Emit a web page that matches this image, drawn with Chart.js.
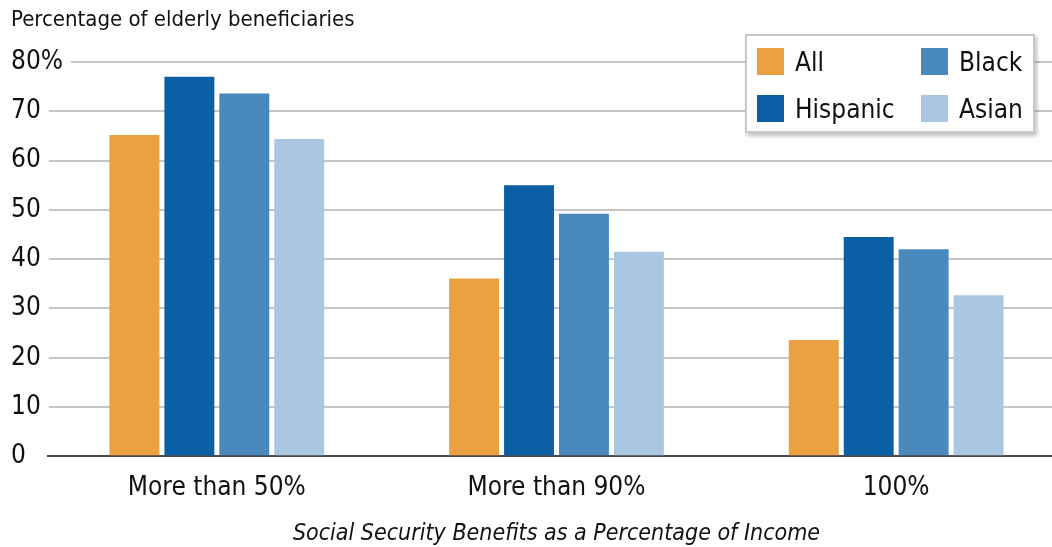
<!DOCTYPE html>
<html>
<head>
<meta charset="utf-8">
<script src="https://cdn.jsdelivr.net/npm/chart.js@4.4.1/dist/chart.umd.min.js"></script>
<style>
    html, body { margin: 0; padding: 0; background: #fff; overflow: hidden; }
    #wrap { position: relative; width: 1052px; height: 547px; overflow: hidden; }
    #grafico { position: absolute; left: 0; top: 0; }
    #leyenda {
        position: absolute; left: 745px; top: 34px; width: 290px; height: 99px;
        box-sizing: border-box; background: #fff; border: 2px solid #c8c8c8;
        box-shadow: 2px 3px 4px rgba(0, 0, 0, 0.25);
        display: grid; grid-template-columns: 164px 1fr; grid-template-rows: 47px 47px;
        grid-auto-flow: column; padding: 2px 0 0 10px;
        font-family: "DejaVu Sans Condensed", "DejaVu Sans", sans-serif;
        font-size: 26px; color: #111;
    }
    .item { display: flex; align-items: center; line-height: 1; }
    .swatch { display: inline-block; width: 27px; height: 27px; margin-right: 11px; }
</style>
</head>
<body>
<div id="wrap">
    <canvas id="grafico" width="1066" height="547"></canvas>
    <div id="leyenda"></div>
</div>
<script>
const categorias = ['More than 50%', 'More than 90%', '100%'];
const series = ['All', 'Hispanic', 'Black', 'Asian'];
const valoresAll = [65.2, 36.1, 23.6];
const valoresHispanic = [77.0, 55.0, 44.5];
const valoresBlack = [73.6, 49.2, 42.0];
const valoresAsian = [64.4, 41.5, 32.7];
const colores = ['#eba042', '#0b5fa5', '#4a89be', '#a9c7e1'];
const ticksY = ['0', '10', '20', '30', '40', '50', '60', '70', '80%'];
const tituloY = 'Percentage of elderly beneficiaries';
const tituloX = 'Social Security Benefits as a Percentage of Income';

const fuente = '"DejaVu Sans Condensed", "DejaVu Sans", sans-serif';
const valores = [valoresAll, valoresHispanic, valoresBlack, valoresAsian];

function crearLeyenda() {
    const leyenda = document.getElementById('leyenda');
    series.forEach(function(nombre, i) {
        const item = document.createElement('div');
        item.className = 'item';
        item.innerHTML = `<span class="swatch" style="background:${colores[i]}"></span><span>${nombre}</span>`;
        leyenda.appendChild(item);
    });
}

function crearGrafico() {
    const ctx = document.getElementById('grafico').getContext('2d');
    const data = {
        labels: categorias,
        datasets: series.map(function(nombre, i) {
            return {
                label: nombre,
                data: valores[i],
                backgroundColor: colores[i],
                borderWidth: 0,
                categoryPercentage: 0.647,
                barPercentage: 0.909
            };
        })
    };
    const config = {
        type: 'bar',
        data: data,
        options: {
            responsive: false,
            animation: false,
            layout: {padding: {left: 11, right: 0, top: 0, bottom: 0}},
            plugins: {
                legend: {display: false},
                tooltip: {enabled: false},
                title: {
                    display: true,
                    text: tituloY,
                    align: 'start',
                    color: '#111',
                    font: {family: fuente, size: 22, weight: 'normal', lineHeight: 1.2},
                    padding: {top: 7, bottom: 28.6}
                }
            },
            scales: {
                x: {
                    grid: {display: false, drawTicks: false},
                    border: {display: false},
                    ticks: {color: '#111', font: {family: fuente, size: 26, lineHeight: 1.2}, padding: 16.5},
                    title: {
                        display: true,
                        text: tituloX,
                        color: '#111',
                        font: {family: fuente, size: 23, style: 'italic', lineHeight: 1.15},
                        padding: {top: 0, bottom: 0}
                    }
                },
                y: {
                    min: 0,
                    max: 80,
                    afterFit: function(scale) { scale.width = 36; },
                    grid: {
                        drawTicks: false,
                        lineWidth: 2,
                        color: function(c) { return c.tick && c.tick.value === 0 ? '#4a4a4a' : '#c6c6c6'; }
                    },
                    border: {display: false},
                    ticks: {
                        stepSize: 10,
                        mirror: true,
                        padding: -36,
                        color: '#111',
                        font: {family: fuente, size: 26},
                        showLabelBackdrop: true,
                        backdropColor: '#fff',
                        backdropPadding: {top: 0, bottom: 0, left: 0, right: 8},
                        callback: function(value, index) { return ticksY[index]; }
                    }
                }
            }
        }
    };
    return new Chart(ctx, config);
}

document.addEventListener('DOMContentLoaded', function() {
    crearLeyenda();
    crearGrafico();
});
</script>
</body>
</html>
